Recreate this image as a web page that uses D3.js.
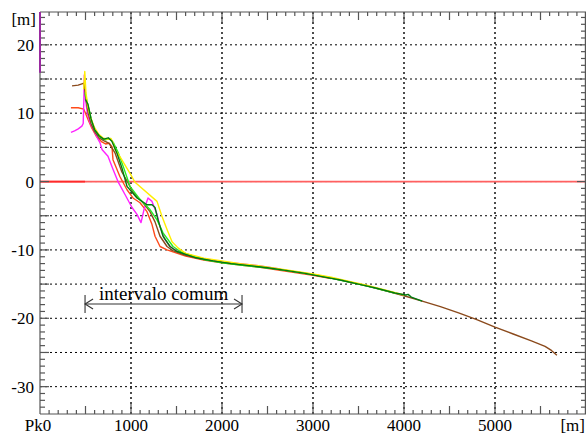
<!DOCTYPE html>
<html>
<head>
<meta charset="utf-8">
<script src="https://cdn.jsdelivr.net/npm/d3@7"></script>
<style>
  body { margin: 0; background: #fff; }
  text { font-family: "Liberation Serif", "Times New Roman", serif; }
</style>
</head>
<body>
<div id="chart"></div>
<script>
// Profiles: distance [m], elevation [m]
const brown = [[352,14],[420,14.1],[484,14.4],[500,12.5],[530,10],[560,8.5],[600,7.3],[650,6.4],[700,6.0],[760,5.6],[824,4.2],[900,1.4],[960,0],[1022,-1.6],[1132,-3.1],[1209,-4.4],[1264,-5.9],[1319,-8],[1396,-9.5],[1460,-10.1],
  [1600,-10.8],[1800,-11.4],[2000,-11.8],[2200,-12.1],[2400,-12.4],[2600,-12.8],[2800,-13.2],[3000,-13.6],[3200,-14.1],[3400,-14.7],[3600,-15.3],[3800,-16.0],[4000,-16.7],[4200,-17.5],[4400,-18.3],[4600,-19.2],[4800,-20.2],[5000,-21.3],[5200,-22.3],[5400,-23.3],[5550,-24.1],[5620,-24.7],[5680,-25.4]];
const orange = [[340,10.8],[420,10.8],[480,10.6],[500,10],[530,9],[570,7.8],[620,6.6],[680,5.8],[720,5.5],[760,5.6],[791,5.1],[802,3.2],[879,0.7],[956,-1.2],[1022,-2.4],[1099,-3.1],[1176,-4.4],[1231,-6.3],[1264,-8],[1319,-9.5],[1396,-10],
  [1600,-10.9],[1800,-11.5],[2000,-11.9],[2200,-12.2],[2400,-12.5],[2600,-12.9],[2800,-13.3],[3000,-13.7],[3200,-14.2]];
const magenta = [[340,7.2],[380,7.4],[420,7.7],[460,8.1],[475,8.5],[482,12],[487,15.6],[500,12],[520,10],[550,8.6],[590,7.5],[630,6.4],[659,5.7],[681,4.7],[747,3.7],[802,1.8],[857,0],[934,-1.9],[1011,-3.8],[1066,-4.8],[1110,-6],[1143,-4.1],[1187,-2.4],[1231,-2.9],[1286,-4.8],[1319,-6.6],[1374,-8.5],[1429,-9.5],[1500,-10.1],
  [1600,-10.7],[1800,-11.3],[2000,-11.8],[2200,-12.0],[2400,-12.3],[2600,-12.7],[2700,-13.0]];
const magentaEdge = [[0,24.8],[0,15.9]];
const yellow = [[480,13.5],[492,16.1],[505,13],[525,11],[555,9.4],[595,8.0],[640,7.0],[690,6.4],[740,6.2],[780,6.3],[802,5.7],[824,4.7],[880,3.6],[989,1.2],[1044,-0.1],[1286,-2.9],[1341,-5.1],[1396,-7],[1451,-8.8],[1517,-9.7],[1600,-10.5],
  [1800,-11.2],[2000,-11.6],[2200,-12.0],[2400,-12.3],[2600,-12.7],[2800,-13.1],[3000,-13.5],[3200,-14.0],[3400,-14.6],[3600,-15.2],[3800,-15.9],[4000,-16.6]];
const green = [[495,13],[520,11.5],[540,10.5],[570,8.7],[610,7.4],[660,6.5],[720,6.1],[770,6.3],[810,5.6],[860,4.2],[920,2.0],[989,-0.7],[1099,-2.6],[1209,-4.1],[1286,-5.6],[1352,-7.5],[1462,-9.5],[1550,-10.3],
  [1800,-11.4],[2000,-11.9],[2200,-12.2],[2400,-12.5],[2600,-12.8],[2800,-13.2],[3000,-13.6],[3200,-14.1],[3400,-14.7],[3600,-15.3],[3900,-16.3]];
const darkGreen = [[500,12],[527,11.3],[560,9.2],[600,7.6],[650,6.7],[700,6.2],[750,6.4],[790,5.9],[850,4.0],[900,2.0],[956,-0.7],[1066,-2.4],[1176,-3.4],[1231,-3.4],[1264,-3.8],[1297,-5.6],[1352,-8],[1429,-9.5],[1500,-10.2],
  [1700,-11.1],[1900,-11.6],[2100,-12.0],[2300,-12.3],[2500,-12.6],[2700,-13.0],[2900,-13.4],[3100,-13.9],[3300,-14.4],[3500,-15.0],[3700,-15.6],[3900,-16.3],[4020,-16.6],[4045,-16.5],[4080,-16.9],[4200,-17.5]];

const profiles = [
  { data: orange, color: "#ff4a1a", width: 1.4 },
  { data: magenta, color: "#ff22ff", width: 1.4 },
  { data: brown, color: "#8b4a1c", width: 1.4 },
  { data: green, color: "#22ee22", width: 1.4 },
  { data: yellow, color: "#ffee00", width: 1.4 },
  { data: darkGreen, color: "#007a10", width: 1.4 },
  { data: magentaEdge, color: "#9a2aa0", width: 2 }
];

const yLabels = [20, 10, 0, -10, -20, -30];
const xLabels = [1000, 2000, 3000, 4000, 5000];
const annotation = { from: 495, to: 2220, level: -17.9, text: "intervalo comum" };

const width = 586, height = 439;
const font = "Liberation Serif";
const x = d3.scaleLinear().domain([0, 6000]).range([40, 586]);
const y = d3.scaleLinear().domain([-34, 24.8]).range([414, 12]);

const svg = d3.select("#chart").append("svg")
  .attr("width", width)
  .attr("height", height)
  .style("display", "block")
  .style("background", "#fff");

// grid
svg.append("g").selectAll("line")
  .data(d3.range(1000, 6000, 1000))
  .join("line")
  .attr("x1", d => x(d)).attr("x2", d => x(d))
  .attr("y1", y(24.8)).attr("y2", y(-34))
  .attr("stroke", "#000").attr("stroke-width", 1.4)
  .attr("stroke-dasharray", "2,3");

svg.append("g").selectAll("line")
  .data(d3.range(-30, 25, 5))
  .join("line")
  .attr("x1", x(0)).attr("x2", x(6000))
  .attr("y1", d => y(d)).attr("y2", d => y(d))
  .attr("stroke", "#000").attr("stroke-width", 1)
  .attr("stroke-dasharray", "2,3");

// zero level
svg.append("line")
  .attr("x1", x(0)).attr("x2", x(6000))
  .attr("y1", y(0)).attr("y2", y(0))
  .attr("stroke", "#ff6060").attr("stroke-width", 1.8);
svg.append("line")
  .attr("x1", x(0)).attr("x2", x(495))
  .attr("y1", y(0)).attr("y2", y(0))
  .attr("stroke", "#ff2a2a").attr("stroke-width", 1.8);

// frame and ticks
const axisColor = "#555";
const frame = svg.append("g").attr("stroke", axisColor).attr("stroke-width", 1.2);
frame.append("line").attr("x1", x(0)).attr("x2", x(0)).attr("y1", y(24.8)).attr("y2", y(-34));
frame.append("line").attr("x1", x(0)).attr("x2", x(6000)).attr("y1", y(-34)).attr("y2", y(-34));
frame.append("line").attr("x1", x(0)).attr("x2", x(6000)).attr("y1", y(24.8)).attr("y2", y(24.8));
frame.append("line").attr("x1", x(6000) - 0.6).attr("x2", x(6000) - 0.6).attr("y1", y(24.8)).attr("y2", y(-34));

const xTicks = d3.range(100, 6000, 100);
const xLen = d => d % 1000 === 0 ? 10 : d % 500 === 0 ? 8 : 4;
frame.selectAll(".xb").data(xTicks).join("line")
  .attr("class", "xb")
  .attr("x1", d => x(d)).attr("x2", d => x(d))
  .attr("y1", y(-34)).attr("y2", d => y(-34) - xLen(d));
frame.selectAll(".xt").data(xTicks).join("line")
  .attr("class", "xt")
  .attr("x1", d => x(d)).attr("x2", d => x(d))
  .attr("y1", y(24.8)).attr("y2", d => y(24.8) + xLen(d));

const yTicks = d3.range(-33, 25, 1);
const yLen = d => d % 5 === 0 ? 9 : 5;
frame.selectAll(".yl").data(yTicks).join("line")
  .attr("class", "yl")
  .attr("x1", x(0)).attr("x2", d => x(0) + yLen(d))
  .attr("y1", d => y(d)).attr("y2", d => y(d));
frame.selectAll(".yr").data(yTicks).join("line")
  .attr("class", "yr")
  .attr("x1", x(6000)).attr("x2", d => x(6000) - yLen(d))
  .attr("y1", d => y(d)).attr("y2", d => y(d));

// profiles
const line = d3.line().x(d => x(d[0])).y(d => y(d[1]));
svg.append("g").selectAll("path")
  .data(profiles)
  .join("path")
  .attr("d", d => line(d.data))
  .attr("fill", "none")
  .attr("stroke", d => d.color)
  .attr("stroke-width", d => d.width)
  .attr("stroke-linejoin", "round");

// labels
const addText = (sel, size) => sel
  .attr("font-family", font)
  .style("font-family", "'Liberation Serif', serif")
  .attr("font-size", size)
  .attr("fill", "#000");

addText(svg.append("g").selectAll(".ylab")
  .data(yLabels)
  .join("text")
  .attr("class", "ylab")
  .attr("x", 34)
  .attr("y", d => y(d) + 6)
  .attr("text-anchor", "end")
  .text(d => d), 17);

addText(svg.append("text").attr("x", 36).attr("y", 25)
  .attr("text-anchor", "end").text("[m]"), 17);

addText(svg.append("g").selectAll(".xlab")
  .data(xLabels)
  .join("text")
  .attr("class", "xlab")
  .attr("x", d => x(d))
  .attr("y", 431)
  .attr("text-anchor", "middle")
  .text(d => d), 17);

addText(svg.append("text").attr("x", x(0) - 2).attr("y", 431)
  .attr("text-anchor", "middle").text("Pk0"), 17);
addText(svg.append("text").attr("x", 585).attr("y", 431)
  .attr("text-anchor", "end").text("[m]"), 17);

// common interval annotation
const ax1 = x(annotation.from), ax2 = x(annotation.to), ay = y(annotation.level);
const ann = svg.append("g").attr("stroke", "#333").attr("stroke-width", 1.1).attr("fill", "none");
ann.append("line").attr("x1", ax1).attr("x2", ax2).attr("y1", ay).attr("y2", ay);
ann.append("line").attr("x1", ax1).attr("x2", ax1).attr("y1", ay - 9).attr("y2", ay + 9);
ann.append("line").attr("x1", ax2).attr("x2", ax2).attr("y1", ay - 9).attr("y2", ay + 9);
ann.append("path").attr("d", `M${ax1 + 8},${ay - 5}L${ax1},${ay}L${ax1 + 8},${ay + 5}`);
ann.append("path").attr("d", `M${ax2 - 8},${ay - 5}L${ax2},${ay}L${ax2 - 8},${ay + 5}`);
addText(svg.append("text")
  .attr("x", (ax1 + ax2) / 2)
  .attr("y", ay - 4)
  .attr("text-anchor", "middle")
  .text(annotation.text), 19);
</script>
</body>
</html>
